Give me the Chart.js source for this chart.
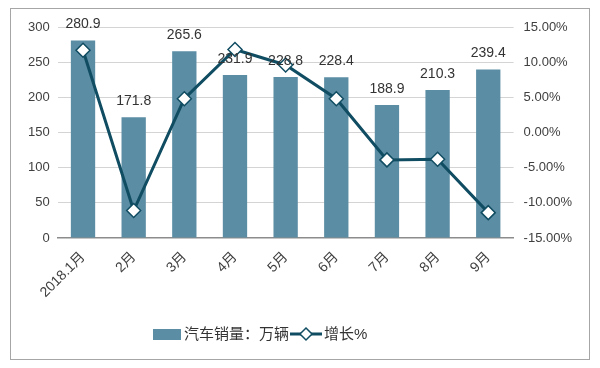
<!DOCTYPE html>
<html>
<head>
<meta charset="utf-8">
<script src="https://cdn.jsdelivr.net/npm/chart.js@4"></script>
<style>
  body { margin: 0; background: #fff; }
  #wrap { width: 600px; height: 368px; }
</style>
</head>
<body>
<div id="wrap"><canvas id="salesChart" width="600" height="368"></canvas></div>
<script>
// data
const months = ['2018.1月', '2月', '3月', '4月', '5月', '6月', '7月', '8月', '9月'];
const sales = [280.9, 171.8, 265.6, 231.9, 228.8, 228.4, 188.9, 210.3, 239.4];
const growth = [11.7, -11.1, 4.8, 11.8, 9.6, 4.8, -3.9, -3.8, -11.4];
const salesLabel = '汽车销量：万辆';
const growthLabel = '增长%';

const barColor = '#5B8DA4';
const lineColor = '#114D62';
const fontFamily = '"Liberation Sans", Arial, "Noto Sans CJK SC", sans-serif';

// outer frame round the whole figure
const framePlugin = {
    id: 'frame',
    beforeDraw(chart) {
        const c = chart.ctx;
        c.save();
        c.strokeStyle = '#a6a6a6';
        c.lineWidth = 1;
        c.strokeRect(10.5, 8.5, 579, 351);
        c.restore();
    }
};

// value labels above the bars
const barLabelPlugin = {
    id: 'barLabels',
    afterDatasetsDraw(chart) {
        const c = chart.ctx;
        const meta = chart.getDatasetMeta(0);
        c.save();
        c.font = '14px ' + fontFamily;
        c.fillStyle = '#333';
        c.textAlign = 'center';
        c.textBaseline = 'bottom';
        meta.data.forEach((bar, i) => {
            c.fillText(sales[i].toFixed(1), bar.x, bar.y - 9);
        });
        c.restore();
    }
};

// legend drawn by hand so the line item gets its diamond
const legendPlugin = {
    id: 'customLegend',
    afterDraw(chart) {
        const c = chart.ctx;
        const y = 334;
        c.save();
        c.fillStyle = barColor;
        c.fillRect(153, y - 5, 28, 11);
        c.font = '15px ' + fontFamily;
        c.fillStyle = '#333';
        c.textBaseline = 'middle';
        c.fillText(salesLabel, 184, y + 1);
        const w = c.measureText(salesLabel).width;
        const lx = 184 + w + 1;
        c.strokeStyle = lineColor;
        c.lineWidth = 3;
        c.beginPath();
        c.moveTo(lx, y);
        c.lineTo(lx + 32, y);
        c.stroke();
        const dx = lx + 16;
        c.fillStyle = '#fff';
        c.lineWidth = 1.5;
        c.beginPath();
        c.moveTo(dx, y - 6);
        c.lineTo(dx + 6, y);
        c.lineTo(dx, y + 6);
        c.lineTo(dx - 6, y);
        c.closePath();
        c.fill();
        c.stroke();
        c.fillStyle = '#333';
        c.fillText(growthLabel, lx + 34, y + 1);
        c.restore();
    }
};

const ctx = document.getElementById('salesChart').getContext('2d');
new Chart(ctx, {
    type: 'bar',
    data: {
        labels: months,
        datasets: [
            {
                type: 'bar',
                label: salesLabel,
                data: sales,
                backgroundColor: barColor,
                barPercentage: 0.48,
                categoryPercentage: 1,
                yAxisID: 'y',
                order: 2,
            },
            {
                type: 'line',
                label: growthLabel,
                data: growth,
                borderColor: lineColor,
                borderWidth: 3,
                tension: 0,
                pointStyle: 'rectRot',
                pointRadius: 7,
                pointBackgroundColor: '#fff',
                pointBorderColor: lineColor,
                pointBorderWidth: 1.5,
                yAxisID: 'y1',
                order: 1,
            },
        ],
    },
    options: {
        responsive: false,
        animation: false,
        layout: { padding: { left: 20, right: 18, top: 27, bottom: 64 } },
        plugins: {
            legend: { display: false },
            tooltip: { enabled: false },
        },
        scales: {
            x: {
                grid: { display: false },
                border: { color: '#8c8c8c', width: 1.5 },
                ticks: {
                    color: '#404040',
                    font: { size: 14, family: fontFamily },
                    maxRotation: 45,
                    minRotation: 45,
                },
            },
            y: {
                position: 'left',
                min: 0,
                max: 300,
                ticks: { stepSize: 50, color: '#404040', font: { size: 13, family: fontFamily }, padding: 8 },
                grid: { color: '#d4d4d4', drawTicks: false },
                border: { display: false },
            },
            y1: {
                position: 'right',
                min: -15,
                max: 15,
                ticks: {
                    stepSize: 5,
                    color: '#404040',
                    font: { size: 13, family: fontFamily },
                    padding: 10,
                    callback: v => v.toFixed(2) + '%',
                },
                grid: { display: false, drawTicks: false },
                border: { display: false },
            },
        },
    },
    plugins: [framePlugin, barLabelPlugin, legendPlugin],
});
</script>
</body>
</html>
